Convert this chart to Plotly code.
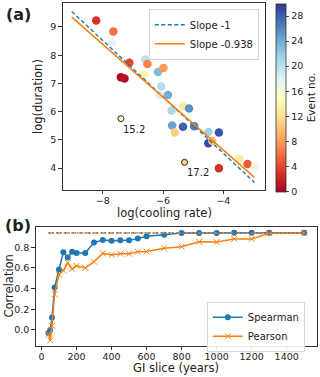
import plotly.graph_objects as go

# ---------------- Panel (a) data ----------------
cool_rate = [-8.22, -7.65, -7.69, -7.12, -7.40, -7.28, -6.59, -6.52, -6.63, -6.17,
             -5.99, -6.06, -6.10, -5.84, -5.72, -5.33, -5.14, -5.70, -5.34, -5.61,
             -4.97, -4.50, -4.15, -4.50, -4.37, -3.47, -3.20, -2.95, -4.15]
duration = [9.23, 8.84, 8.44, 7.73, 7.22, 7.17, 7.85, 7.69, 7.31, 7.40,
            7.55, 6.89, 6.59, 6.59, 6.04, 6.20, 6.11, 5.51, 5.46, 5.26,
            5.48, 5.28, 5.26, 4.88, 4.96, 4.34, 4.14, 4.06, 3.99]
event_no = [3, 6, 17.5, 4, 0.5, 1, 20, 7, 14, 23,
            8, 20.5, 18.5, 24, 21, 13, 25.5, 24.5, 28, 11,
            26.5, 21.5, 28.5, 29, 10, 13, 5, 16.5, 3]

special_x = [-7.40, -5.29]
special_y = [5.75, 4.20]
special_labels = ["15.2", "17.2"]
special_colors = ["#fdfbbf", "#f8d48c"]

fit_x = [-9.03, -2.97]
slope_ref, icpt_ref = -1.0, 0.52
slope_fit, icpt_fit = -0.938, 0.88

# ---------------- Panel (b) data ----------------
gi_slice = [40, 50, 60, 75, 100, 125, 150, 175, 200, 250, 300, 350, 400, 450, 500,
            550, 600, 700, 800, 900, 1000, 1100, 1200, 1300, 1500]
spearman = [-0.03, 0.00, 0.12, 0.41, 0.585, 0.75, 0.70, 0.755, 0.745, 0.745, 0.845, 0.87,
            0.862, 0.866, 0.866, 0.885, 0.905, 0.92, 0.937, 0.936, 0.936, 0.94, 0.94,
            0.94, 0.94]
pearson = [-0.04, -0.10, 0.04, 0.345, 0.535, 0.575, 0.65, 0.59, 0.62, 0.60, 0.66, 0.74,
           0.725, 0.737, 0.737, 0.757, 0.758, 0.79, 0.805, 0.852, 0.85, 0.88, 0.88,
           0.935, 0.94]
full_corr = 0.938

FONT = "DejaVu Sans"
C0 = "#1f77b4"
C1 = "#ff7f0e"
W, H = 320, 377
TICK = 9.5

def px(x):
    return x / W

def py(y):
    return 1 - y / H

fig = go.Figure()

fig.add_trace(go.Scatter(
    x=cool_rate, y=duration, mode="markers", showlegend=False,
    marker=dict(size=8.5, color=event_no, colorscale="RdYlBu", cmin=0, cmax=30,
                line=dict(width=0),
                colorbar=dict(thickness=10, x=px(276), xanchor="left", xpad=0, ypad=0,
                              y=py(191.5), yanchor="bottom", len=188 / H,
                              lenmode="fraction", outlinewidth=0.8, outlinecolor="#333",
                              tickvals=[0, 4, 8, 12, 16, 20, 24, 28], ticks="outside",
                              ticklen=3.5, tickwidth=0.8, tickfont=dict(size=TICK, color="#222"),
                              title=dict(text="Event no.", side="right",
                                         font=dict(size=10.5, color="#222")))),
    xaxis="x", yaxis="y"))

fig.add_trace(go.Scatter(
    x=special_x, y=special_y, mode="markers", showlegend=False,
    marker=dict(size=6, color=special_colors, line=dict(width=1, color="#222")),
    xaxis="x", yaxis="y"))

fig.add_trace(go.Scatter(
    x=fit_x, y=[slope_ref * v + icpt_ref for v in fit_x], mode="lines", name="Slope -1",
    line=dict(color=C0, dash="4px,2.5px", width=1.4), legend="legend", xaxis="x", yaxis="y"))
fig.add_trace(go.Scatter(
    x=fit_x, y=[slope_fit * v + icpt_fit for v in fit_x], mode="lines", name="Slope -0.938",
    line=dict(color=C1, width=1.5), legend="legend", xaxis="x", yaxis="y"))

fig.add_trace(go.Scatter(
    x=gi_slice, y=spearman, mode="lines+markers", name="Spearman",
    line=dict(color=C0, width=1.5), marker=dict(symbol="circle", size=6, color=C0),
    legend="legend2", xaxis="x2", yaxis="y2"))
fig.add_trace(go.Scatter(
    x=gi_slice, y=pearson, mode="lines+markers", name="Pearson",
    line=dict(color=C1, width=1.5),
    marker=dict(symbol="x-thin-open", size=6, color=C1, line=dict(width=1, color=C1)),
    legend="legend2", xaxis="x2", yaxis="y2"))
fig.add_trace(go.Scatter(
    x=[gi_slice[0], gi_slice[-1]], y=[full_corr, full_corr], mode="lines", showlegend=False,
    line=dict(color=C1, dash="5px,2.5px", width=1.5), xaxis="x2", yaxis="y2"))
fig.add_trace(go.Scatter(
    x=[gi_slice[0], gi_slice[-1]], y=[full_corr, full_corr], mode="lines", showlegend=False,
    line=dict(color=C0, dash="1.5px,2.5px", width=1.3), xaxis="x2", yaxis="y2"))

axis_common = dict(showline=True, mirror=True, linecolor="#333", linewidth=0.8,
                   showgrid=False, zeroline=False, ticks="outside", ticklen=3.5,
                   tickwidth=0.8, tickcolor="#333", tickfont=dict(size=TICK, color="#222"))

def lab(text, x, y, size=11.5, angle=0):
    return dict(text=text, x=px(x), y=py(y), xref="paper", yref="paper",
                xanchor="center", yanchor="middle", showarrow=False, textangle=angle,
                font=dict(size=size, color="#222"))

annotations = [
    lab("<b>(a)</b>", 18, 14, size=16),
    lab("<b>(b)</b>", 18, 225, size=16),
    lab("log(duration)", 38, 97, angle=-90),
    lab("log(cooling rate)", 164, 213),
    lab("Correlation", 8.5, 286, angle=-90),
    lab("GI slice (years)", 176, 368),
]
for xv, yv, t in zip(special_x, special_y, special_labels):
    annotations.append(dict(text=t, x=xv, y=yv, xref="x", yref="y", showarrow=False,
                            xanchor="left", yanchor="top", xshift=0, yshift=-3,
                            font=dict(size=10, color="#222")))

fig.update_layout(
    width=W, height=H, margin=dict(l=0, r=0, t=0, b=0, autoexpand=False),
    paper_bgcolor="white", plot_bgcolor="white",
    font=dict(family=FONT, size=10, color="#222"),
    xaxis=dict(domain=[px(62.7), px(265)], range=[-9.33, -2.62], anchor="y",
               tickvals=[-8, -6, -4], ticklabelstandoff=-2, **axis_common),
    yaxis=dict(domain=[py(190), py(3.3)], range=[3.22, 9.84], anchor="x",
               tickvals=[4, 5, 6, 7, 8, 9], **axis_common),
    xaxis2=dict(domain=[px(35.7), px(317)], range=[-33, 1573], anchor="y2",
                tickvals=[0, 200, 400, 600, 800, 1000, 1200, 1400], ticklabelstandoff=-2,
                **axis_common),
    yaxis2=dict(domain=[py(346), py(226.5)], range=[-0.155, 1.0], anchor="x2",
                tickvals=[0, 0.2, 0.4, 0.6, 0.8], tickformat=".1f", **axis_common),
    legend=dict(x=px(259), y=py(9.5), xanchor="right", yanchor="top",
                bgcolor="rgba(255,255,255,0.85)", bordercolor="#ccc", borderwidth=0.8,
                font=dict(size=10, color="#222"), tracegroupgap=0, itemwidth=30),
    legend2=dict(x=px(305), y=py(302), xanchor="right", yanchor="top",
                 bgcolor="rgba(255,255,255,0.85)", bordercolor="#ccc", borderwidth=0.8,
                 font=dict(size=10, color="#222"), tracegroupgap=0, itemwidth=30),
    annotations=annotations,
)

fig.write_html("out.html", config={"displayModeBar": False},
               post_script="document.body.style.margin='0';document.body.style.overflow='hidden';")
